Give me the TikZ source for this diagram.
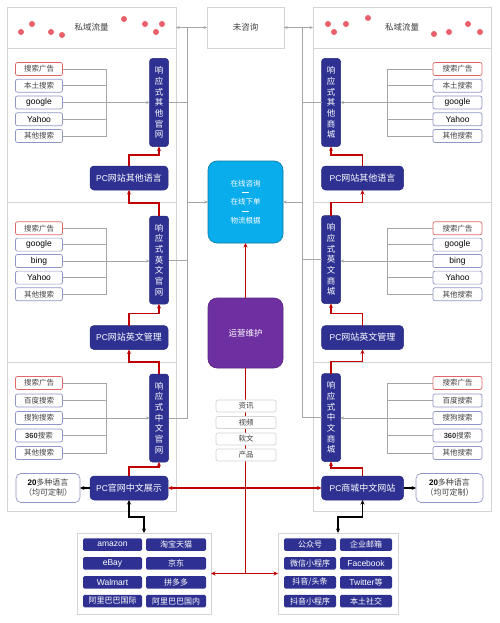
\documentclass[tikz,border=0pt]{standalone}
\usepackage{fontspec}
\setmainfont{Noto Sans CJK SC}
\newfontfamily\lat{Liberation Sans}
\usetikzlibrary{arrows.meta,calc}
\definecolor{dblue}{HTML}{2E3192}
\definecolor{dred}{HTML}{C00000}
\definecolor{cpanel}{HTML}{D4D4D4}
\definecolor{cline}{HTML}{A6A6A6}
\definecolor{csblue}{HTML}{9096C8}
\definecolor{csred}{HTML}{E06666}
\definecolor{ctxt}{HTML}{404040}
\definecolor{cdot}{HTML}{E8606A}
\definecolor{ccyan}{HTML}{0AADEB}
\definecolor{cpurple}{HTML}{6E2FA0}
\newcommand{\en}[1]{{\lat\fontsize{8.5}{10}\selectfont\color{black}#1}}
\newcommand{\enw}[1]{{\lat\fontsize{8.5}{10}\selectfont #1}}
\tikzset{
 panel/.style={draw=cpanel, line width=0.7pt, inner sep=0pt, outer sep=0pt, font=\fontsize{8.5}{10}\selectfont, text=ctxt},
 sbox/.style={draw=csblue, fill=white, line width=0.7pt, rounded corners=2pt, minimum width=47pt, minimum height=13pt, inner sep=0pt, outer sep=0pt, font=\fontsize{7.5}{9}\selectfont, text=ctxt},
 sboxr/.style={sbox, draw=csred},
 sboxR/.style={sbox, minimum width=49pt},
 sboxRr/.style={sboxr, minimum width=49pt},
 vbox/.style={fill=dblue, draw=dblue!85!black, line width=0.5pt, rounded corners=3pt, minimum width=19pt, minimum height=88pt, inner sep=0pt, outer sep=0pt, text=white, align=center, font=\fontsize{8.5}{10.7}\selectfont},
 pcbox/.style={fill=dblue, draw=dblue!85!black, line width=0.5pt, rounded corners=4pt, minimum width=78pt, minimum height=24pt, inner sep=0pt, outer sep=0pt, text=white, font=\fontsize{9}{11}\selectfont},
 pcboxR/.style={pcbox, minimum width=82pt},
 langbox/.style={draw=csblue, fill=white, line width=0.7pt, rounded corners=5pt, minimum height=29pt, inner sep=0pt, outer sep=0pt, align=center, font=\fontsize{8}{10}\selectfont, text=ctxt},
 ibox/.style={fill=dblue, rounded corners=1.5pt, minimum height=12.5pt, inner sep=0pt, outer sep=0pt, text=white, font=\fontsize{8}{10}\selectfont},
 tbox/.style={draw=cpanel, fill=white, line width=0.7pt, rounded corners=2pt, minimum width=60pt, minimum height=12pt, inner sep=0pt, outer sep=0pt, font=\fontsize{7.5}{9}\selectfont, text=ctxt},
 gl/.style={draw=cline, line width=0.7pt},
 ga/.style={gl, -{Stealth[length=3.5pt,width=3pt]}},
 gaa/.style={gl, {Stealth[length=3.5pt,width=3pt]}-{Stealth[length=3.5pt,width=3pt]}},
 rl/.style={draw=dred, line width=1.3pt},
 ra/.style={rl, -{Stealth[length=4.5pt,width=4pt]}},
 raa/.style={rl, {Stealth[length=4.5pt,width=4pt]}-{Stealth[length=4.5pt,width=4pt]}},
 bla/.style={draw=black, line width=1.3pt, -{Stealth[length=4.5pt,width=4pt]}},
 blaa/.style={draw=black, line width=1.3pt, {Stealth[length=4.5pt,width=4pt]}-{Stealth[length=4.5pt,width=4pt]}},
 dotc/.style={fill=cdot}
}
\begin{document}
\begin{tikzpicture}[x=1pt,y=-1pt]
\useasboundingbox (0,0) rectangle (500,623);
\fill[white] (0,0) rectangle (500,623);

% panels
\node[panel, minimum width=169pt, minimum height=41pt] (LH) at (91.5,27.5) {私域流量};
\node[panel, minimum width=169pt, minimum height=154pt] (LP1) at (91.5,125) {};
\node[panel, minimum width=169pt, minimum height=160pt] (LP2) at (91.5,282) {};
\node[panel, minimum width=169pt, minimum height=149pt] (LP3) at (91.5,436.5) {};
\node[panel, minimum width=178pt, minimum height=41pt] (RH) at (402,27.5) {私域流量};
\node[panel, minimum width=178pt, minimum height=154pt] (RP1) at (402,125) {};
\node[panel, minimum width=178pt, minimum height=160pt] (RP2) at (402,282) {};
\node[panel, minimum width=178pt, minimum height=149pt] (RP3) at (402,436.5) {};
\node[panel, minimum width=77pt, minimum height=41pt] (wzx) at (245.5,27.5) {未咨询};

% dots
\foreach \p in {(21,32),(32,24),(51,32),(62,35),(124,19),(145,24),(162,24),(156,32),(328,24),(334,32),(346,24),(368,18),(434,34),(449,32),(468,24),(480,32)}
  \fill[dotc] \p circle[radius=3pt];

% left section 1
\node[vbox] (L1v) at (159,102.5) {响\\应\\式\\其\\他\\官\\网};
\node[pcbox] (L1pc) at (129,178) {\enw{PC}网站其他语言};
\node[sboxr] (L1s1) at (39,69) {搜索广告};
\node[sbox] (L1s2) at (39,85.75) {本土搜索};
\node[sbox] (L1s3) at (39,102.5) {\en{google}};
\node[sbox] (L1s4) at (39,119.25) {\en{Yahoo}};
\node[sbox] (L1s5) at (39,136) {其他搜索};
% left section 2
\node[vbox] (L2v) at (159,260) {响\\应\\式\\英\\文\\官\\网};
\node[pcbox] (L2pc) at (129,337.5) {\enw{PC}网站英文管理};
\node[sboxr] (L2s1) at (39,228.2) {搜索广告};
\node[sbox] (L2s2) at (39,244.6) {\en{google}};
\node[sbox] (L2s3) at (39,261) {\en{bing}};
\node[sbox] (L2s4) at (39,277.6) {\en{Yahoo}};
\node[sbox] (L2s5) at (39,294.2) {其他搜索};
% left section 3
\node[vbox] (L3v) at (159,418) {响\\应\\式\\中\\文\\官\\网};
\node[pcbox] (L3pc) at (129,488) {\enw{PC}官网中文展示};
\node[sboxr] (L3s1) at (39,383) {搜索广告};
\node[sbox] (L3s2) at (39,400.5) {百度搜索};
\node[sbox] (L3s3) at (39,418) {搜狗搜索};
\node[sbox] (L3s4) at (39,435.5) {{\lat\bfseries\color{black!80}360}搜索};
\node[sbox] (L3s5) at (39,453) {其他搜索};
\node[langbox, minimum width=64pt] (L3lang) at (48,488) {{\lat\bfseries\color{black}20}多种语言\\（均可定制）};

% right section 1
\node[vbox] (R1v) at (331,102.5) {响\\应\\式\\其\\他\\商\\城};
\node[pcboxR] (R1pc) at (362.5,178) {\enw{PC}网站其他语言};
\node[sboxRr] (R1s1) at (457.5,69) {搜索广告};
\node[sboxR] (R1s2) at (457.5,85.75) {本土搜索};
\node[sboxR] (R1s3) at (457.5,102.5) {\en{google}};
\node[sboxR] (R1s4) at (457.5,119.25) {\en{Yahoo}};
\node[sboxR] (R1s5) at (457.5,136) {其他搜索};
% right section 2
\node[vbox] (R2v) at (331,259.5) {响\\应\\式\\英\\文\\商\\城};
\node[pcboxR] (R2pc) at (362.5,337.5) {\enw{PC}网站英文管理};
\node[sboxRr] (R2s1) at (457.5,228.2) {搜索广告};
\node[sboxR] (R2s2) at (457.5,244.6) {\en{google}};
\node[sboxR] (R2s3) at (457.5,261) {\en{bing}};
\node[sboxR] (R2s4) at (457.5,277.6) {\en{Yahoo}};
\node[sboxR] (R2s5) at (457.5,294.2) {其他搜索};
% right section 3
\node[vbox] (R3v) at (331,417.5) {响\\应\\式\\中\\文\\商\\城};
\node[pcboxR] (R3pc) at (362.5,488) {\enw{PC}商城中文网站};
\node[sboxRr] (R3s1) at (457.5,383) {搜索广告};
\node[sboxR] (R3s2) at (457.5,400.5) {百度搜索};
\node[sboxR] (R3s3) at (457.5,418) {搜狗搜索};
\node[sboxR] (R3s4) at (457.5,435.5) {{\lat\bfseries\color{black!80}360}搜索};
\node[sboxR] (R3s5) at (457.5,453) {其他搜索};
\node[langbox, minimum width=67pt] (R3lang) at (449.5,488) {{\lat\bfseries\color{black}20}多种语言\\（均可定制）};

% middle
\node[fill=ccyan, draw=ccyan!70!black, line width=0.6pt, rounded corners=9pt, minimum width=75pt, minimum height=82pt, inner sep=0pt, outer sep=0pt, text=white, align=center, font=\fontsize{7.5}{9.3}\selectfont] (online) at (245.5,202)
  {在线咨询\\\rule[2.4pt]{7pt}{1.2pt}\\在线下单\\\rule[2.4pt]{7pt}{1.2pt}\\物流根据};
\node[fill=cpurple, draw=cpurple!80!black, line width=0.6pt, rounded corners=9pt, minimum width=75pt, minimum height=70pt, inner sep=0pt, outer sep=0pt, text=white, font=\fontsize{8.5}{10}\selectfont] (op) at (245.5,333) {运营维护};

% bottom boxes
\node[panel, fill=white, minimum width=134pt, minimum height=81pt] (BL) at (144,573.5) {};
\node[panel, fill=white, minimum width=120pt, minimum height=81pt] (BR) at (338,573.5) {};

% red vertical behind text boxes
\coordinate (bot) at (op.south |- BL.east);
\draw[rl] (op.south) -- (bot);

\node[tbox] (t1) at (246,406) {资讯};
\node[tbox] (t2) at (246,422.5) {视频};
\node[tbox] (t3) at (246,439) {软文};
\node[tbox] (t4) at (246,455) {产品};

\node[ibox, minimum width=59pt] (b11) at (112.5,544.5) {\enw{amazon}};
\node[ibox, minimum width=60pt] (b12) at (176,544.5) {淘宝天猫};
\node[ibox, minimum width=59pt] (b21) at (112.5,563.3) {\enw{eBay}};
\node[ibox, minimum width=60pt] (b22) at (176,563.3) {京东};
\node[ibox, minimum width=59pt] (b31) at (112.5,582.3) {\enw{Walmart}};
\node[ibox, minimum width=60pt] (b32) at (176,582.3) {拼多多};
\node[ibox, minimum width=59pt] (b41) at (112.5,601) {阿里巴巴国际};
\node[ibox, minimum width=60pt] (b42) at (176,601) {阿里巴巴国内};

\node[ibox, minimum width=52pt] (c11) at (310,544.5) {公众号};
\node[ibox, minimum width=52pt] (c12) at (366,544.5) {企业邮箱};
\node[ibox, minimum width=52pt] (c21) at (310,563.3) {微信小程序};
\node[ibox, minimum width=52pt] (c22) at (366,563.3) {\enw{Facebook}};
\node[ibox, minimum width=52pt] (c31) at (310,582.3) {抖音/头条};
\node[ibox, minimum width=52pt] (c32) at (366,582.3) {\enw{Twitter}等};
\node[ibox, minimum width=52pt] (c41) at (310,601) {抖音小程序};
\node[ibox, minimum width=52pt] (c42) at (366,601) {本土社交};

% gray connectors
\coordinate (vl1) at (187.5,27.5);
\coordinate (vl2) at (187.5,418);
\coordinate (vr1) at (302.5,27.5);
\coordinate (vr2) at (302.5,417.5);
\draw[gaa] (LH.east) -- (wzx.west);
\draw[gaa] (wzx.east) -- (RH.west);
\draw[gl] (vl1) -- (vl2);
\draw[gl] (vr1) -- (vr2);
\draw[gl] (L1v.east) -- (L1v.east -| vl1);
\draw[gl] (L2v.east) -- (L2v.east -| vl1);
\draw[gl] (L3v.east) -- (L3v.east -| vl1);
\draw[gl] (R1v.west) -- (R1v.west -| vr1);
\draw[gl] (R2v.west) -- (R2v.west -| vr1);
\draw[gl] (R3v.west) -- (R3v.west -| vr1);
\draw[ga] (online.west -| vl1) -- (online.west);
\draw[ga] (online.east -| vr1) -- (online.east);

% search brackets
\coordinate (L1b) at (106,102.5);
\coordinate (L2b) at (106,261);
\coordinate (L3b) at (106,418);
\coordinate (R1b) at (387,102.5);
\coordinate (R2b) at (387,261);
\coordinate (R3b) at (387,418);
\foreach \s in {1,2,3}{
  \foreach \i in {1,2,3,4,5}{
    \draw[gl] (L\s s\i.east) -| (L\s b);
    \draw[gl] (R\s s\i.west) -| (R\s b);
  }
  \draw[ga] (L\s b) -- (L\s b -| L\s v.west);
  \draw[ga] (R\s b) -- (R\s b -| R\s v.east);
}

% red chain
\draw[ra] (L1pc.north) -- ++(0,-11) -| (L1v.south);
\draw[ra] (L2v.north) -- ++(0,-13) -| (L1pc.south);
\draw[ra] (L2pc.north) -- ++(0,-12) -| (L2v.south);
\draw[ra] (L3v.north) -- ++(0,-12) -| (L2pc.south);
\draw[ra] (L3pc.north) -- ++(0,-9) -| (L3v.south);
\draw[ra] (R1pc.north) -- ++(0,-11) -| (R1v.south);
\draw[ra] (R2v.north) -- ++(0,-13) -| (R1pc.south);
\draw[ra] (R2pc.north) -- ++(0,-12) -| (R2v.south);
\draw[ra] (R3v.north) -- ++(0,-12) -| (R2pc.south);
\draw[ra] (R3pc.north) -- ++(0,-8) -| (R3v.south);
\draw[ra] (op.north) -- (online.south);
\draw[raa] (L3pc.east) -- (R3pc.west);
\draw[ra] (bot) -- (BL.east);
\draw[ra] (bot) -- (BR.west);

% black
\draw[bla] (L3pc.west) -- (L3lang.east);
\draw[bla] (R3pc.east) -- (R3lang.west);
\draw[blaa] (L3pc.south) -- ++(0,17) -| (BL.north);
\draw[blaa] (R3pc.south) -- ++(0,17) -| (BR.north);
\end{tikzpicture}
\end{document}
